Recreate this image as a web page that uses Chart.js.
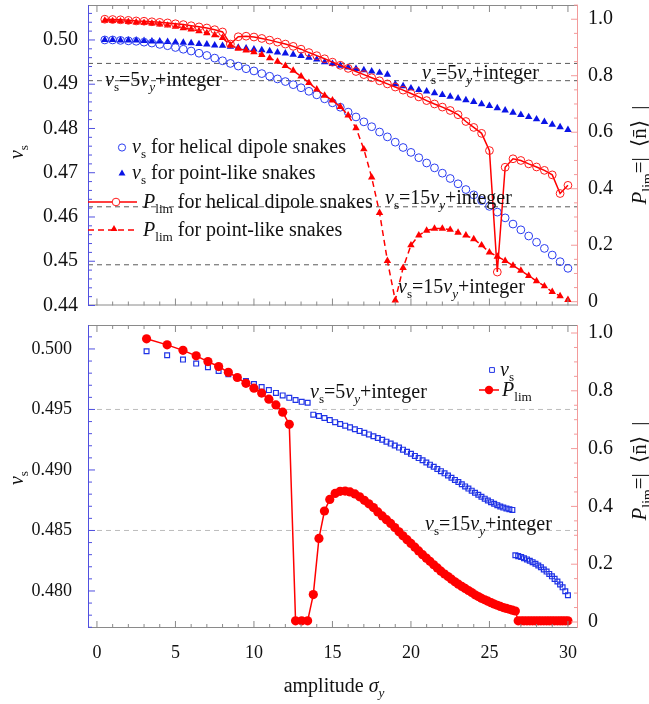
<!DOCTYPE html>
<html>
<head>
<meta charset="utf-8">
<script src="https://cdn.jsdelivr.net/npm/chart.js@4.4.1/dist/chart.umd.min.js"></script>
<style>
body{margin:0;background:#fff;}
#top,#bottom{position:absolute;left:0;width:649px;}
#top{top:0;height:316px;}
#bottom{top:316px;height:388px;}
</style>
</head>
<body>
<div id="top"><canvas id="c1"></canvas></div>
<div id="bottom"><canvas id="c2"></canvas></div>
<script>
// top panel: amplitude steps
const xTop = [0.5,1,1.5,2,2.5,3,3.5,4,4.5,5,5.5,6,6.5,7,7.5,8,8.5,9,9.5,10,
  10.5,11,11.5,12,12.5,13,13.5,14,14.5,15,15.5,16,16.5,17,17.5,18,18.5,19,19.5,20,
  20.5,21,21.5,22,22.5,23,23.5,24,24.5,25,25.5,26,26.5,27,27.5,28,28.5,29,29.5,30];
const nuHelical = [0.5000,0.5000,0.4999,0.4998,0.4997,0.4995,0.4993,0.4990,0.4987,0.4983,
  0.4979,0.4975,0.4970,0.4965,0.4959,0.4953,0.4947,0.4941,0.4935,0.4930,
  0.4924,0.4918,0.4912,0.4906,0.4899,0.4892,0.4884,0.4876,0.4867,0.4858,
  0.4848,0.4837,0.4826,0.4815,0.4804,0.4792,0.4781,0.4769,0.4757,0.4746,
  0.4734,0.4722,0.4711,0.4699,0.4687,0.4675,0.4662,0.4650,0.4637,0.4624,
  0.4611,0.4598,0.4584,0.4571,0.4557,0.4543,0.4529,0.4514,0.4499,0.4484];
const nuPoint = [0.5000,0.5000,0.4999,0.4999,0.4999,0.4998,0.4997,0.4997,0.4996,0.4995,
  0.4994,0.4993,0.4991,0.4990,0.4988,0.4987,0.4985,0.4983,0.4981,0.4979,
  0.4977,0.4975,0.4972,0.4970,0.4967,0.4964,0.4960,0.4956,0.4950,0.4946,
  0.4942,0.4938,0.4935,0.4932,0.4929,0.4926,0.4922,0.4900,0.4896,0.4891,
  0.4887,0.4884,0.4880,0.4876,0.4872,0.4868,0.4864,0.4860,0.4855,0.4851,
  0.4846,0.4841,0.4836,0.4831,0.4826,0.4821,0.4815,0.4809,0.4803,0.4797];
const pHelical = [1.000,0.999,0.998,0.996,0.994,0.993,0.991,0.989,0.987,0.984,
  0.981,0.977,0.973,0.969,0.963,0.955,0.912,0.938,0.940,0.937,
  0.932,0.926,0.919,0.912,0.904,0.894,0.882,0.871,0.860,0.848,
  0.837,0.826,0.815,0.804,0.793,0.782,0.771,0.760,0.749,0.737,
  0.725,0.712,0.700,0.689,0.677,0.662,0.638,0.617,0.596,0.535,
  0.105,0.476,0.506,0.500,0.488,0.477,0.465,0.449,0.383,0.412];
const pPoint = [0.995,0.994,0.993,0.991,0.989,0.987,0.985,0.982,0.978,0.974,
  0.969,0.964,0.958,0.951,0.944,0.934,0.908,0.896,0.890,0.884,
  0.874,0.862,0.850,0.835,0.818,0.798,0.775,0.752,0.730,0.713,
  0.690,0.660,0.615,0.540,0.440,0.315,0.145,0.005,0.120,0.200,
  0.235,0.252,0.259,0.259,0.255,0.245,0.235,0.222,0.200,0.175,
  0.160,0.145,0.128,0.110,0.092,0.073,0.055,0.035,0.020,0.007];
const topResonances = [0.4947, 0.4908, 0.4623, 0.4492];

// bottom panel
const xBottom = [3.16,4.47,5.48,6.32,7.07,7.75,8.37,8.94,9.49,10.00,
  10.49,10.95,11.40,11.83,12.25,12.65,13.04,13.42,13.78,14.14,
  14.49,14.83,15.17,15.49,15.81,16.12,16.43,16.73,17.03,17.32,
  17.61,17.89,18.17,18.44,18.71,18.97,19.24,19.49,19.75,20.00,
  20.25,20.49,20.74,20.98,21.21,21.45,21.68,21.91,22.14,22.36,
  22.58,22.80,23.02,23.24,23.45,23.66,23.87,24.08,24.29,24.49,
  24.70,24.90,25.10,25.30,25.50,25.69,25.88,26.08,26.27,26.46,
  26.65,26.83,27.02,27.20,27.39,27.57,27.75,27.93,28.11,28.28,
  28.46,28.64,28.81,28.98,29.15,29.33,29.50,29.66,29.83,30.00];
const nuBottom = [0.49981,0.49948,0.49912,0.49879,0.49849,0.49818,0.49791,0.49763,0.49736,0.49710,
  0.49686,0.49660,0.49637,0.49616,0.49596,0.49578,0.49563,0.49555,0.49457,0.49446,
  0.49430,0.49412,0.49395,0.49380,0.49366,0.49352,0.49337,0.49323,0.49308,0.49294,
  0.49279,0.49264,0.49250,0.49234,0.49218,0.49202,0.49185,0.49168,0.49151,0.49134,
  0.49116,0.49098,0.49080,0.49062,0.49044,0.49026,0.49008,0.48990,0.48972,0.48954,
  0.48936,0.48918,0.48900,0.48882,0.48864,0.48846,0.48829,0.48812,0.48795,0.48779,
  0.48763,0.48748,0.48734,0.48721,0.48709,0.48698,0.48689,0.48681,0.48675,0.48670,
  0.48295,0.48288,0.48280,0.48271,0.48261,0.48250,0.48238,0.48225,0.48211,0.48196,
  0.48178,0.48160,0.48141,0.48121,0.48100,0.48078,0.48054,0.48030,0.47998,0.47965];
const pBottom = [0.980,0.959,0.940,0.921,0.901,0.884,0.864,0.846,0.826,0.809,
  0.792,0.771,0.751,0.726,0.684,0.004,0.004,0.004,0.095,0.289,
  0.384,0.424,0.445,0.452,0.453,0.450,0.443,0.433,0.421,0.409,
  0.396,0.381,0.367,0.354,0.341,0.327,0.312,0.298,0.285,0.272,
  0.259,0.246,0.233,0.221,0.210,0.198,0.187,0.176,0.166,0.157,
  0.148,0.139,0.131,0.123,0.116,0.109,0.102,0.094,0.088,0.082,
  0.077,0.072,0.067,0.062,0.058,0.054,0.050,0.047,0.044,0.041,
  0.038,0.004,0.004,0.004,0.004,0.004,0.004,0.004,0.004,0.004,
  0.004,0.004,0.004,0.004,0.004,0.004,0.004,0.004,0.004,0.004];
const bottomResonances = [0.495, 0.485];

const xTicks = [0, 5, 10, 15, 20, 25, 30];

const FONT = '"Liberation Serif", "Times New Roman", serif';
const XMIN = -0.57, XMAX = 30.64;
function fnt(sz, it) { return (it ? 'italic ' : '') + sz + 'px ' + FONT; }

// text with subscripts
function rich(ctx, parts, x, y, size, align) {
  const sub = size * 0.66;
  let w = 0;
  parts.forEach(p => { ctx.font = fnt(p.sub ? sub : size, p.it); w += ctx.measureText(p.t).width; });
  let cx = align === 'center' ? x - w / 2 : (align === 'right' ? x - w : x);
  ctx.textAlign = 'left';
  ctx.textBaseline = 'alphabetic';
  parts.forEach(p => {
    ctx.font = fnt(p.sub ? sub : size, p.it);
    ctx.fillText(p.t, cx, y + (p.sub ? size * 0.27 : 0));
    cx += ctx.measureText(p.t).width;
  });
}
function richV(ctx, parts, cx, cy, size) {
  ctx.save();
  ctx.translate(cx, cy);
  ctx.rotate(-Math.PI / 2);
  rich(ctx, parts, 0, size * 0.33, size, 'center');
  ctx.restore();
}

const nuS = [{t: 'ν', it: true}, {t: 's', sub: true}];
const res5 = nuS.concat([{t: '=5'}, {t: 'ν', it: true}, {t: 'y', sub: true, it: true}, {t: '+integer'}]);
const res15 = nuS.concat([{t: '=15'}, {t: 'ν', it: true}, {t: 'y', sub: true, it: true}, {t: '+integer'}]);
const pLim = [{t: 'P', it: true}, {t: 'lim', sub: true}];
const rightTitle = pLim.concat([{t: '=|\u2002'}, {t: '\u27E8n\u0304\u27E9'}, {t: '\u2002|'}]);

function pts(xs, ys) { return xs.map((x, i) => ({x: x, y: ys[i]})); }
function resLine(v, color) {
  return {data: [{x: XMIN, y: v}, {x: XMAX, y: v}], yAxisID: 'y', showLine: true, borderColor: color,
    borderWidth: 1, borderDash: [5, 4], pointRadius: 0, order: 10};
}

// frame with inward ticks
function drawLine(ctx, x1, y1, x2, y2) { ctx.beginPath(); ctx.moveTo(x1, y1); ctx.lineTo(x2, y2); ctx.stroke(); }
function axisTicks(ctx, scale, minor, major, fn) {
  let v = Math.ceil(scale.min / minor - 1e-6) * minor;
  for (; v <= scale.max + 1e-9; v += minor) {
    const isMajor = Math.abs(v / major - Math.round(v / major)) < 1e-4;
    fn(scale.getPixelForValue(v), isMajor ? 7 : 4);
  }
}
const framePlugin = {
  id: 'frame',
  afterDatasetsDraw(chart) {
    const ctx = chart.ctx, a = chart.chartArea, s = chart.scales, o = chart.options.plugins.frame;
    ctx.save();
    ctx.lineWidth = 1;
    ctx.strokeStyle = '#8a8a8a';
    drawLine(ctx, a.left, a.top + 0.5, a.right, a.top + 0.5);
    drawLine(ctx, a.left, a.bottom - 0.5, a.right, a.bottom - 0.5);
    axisTicks(ctx, s.x, 1, 5, (p, L) => {
      drawLine(ctx, p, a.bottom, p, a.bottom - L);
      drawLine(ctx, p, a.top, p, a.top + L);
    });
    ctx.strokeStyle = '#5050e0';
    drawLine(ctx, a.left + 0.5, a.top, a.left + 0.5, a.bottom);
    axisTicks(ctx, s.y, o.lMinor, o.lMajor, (p, L) => drawLine(ctx, a.left, p, a.left + L, p));
    ctx.strokeStyle = '#f39a9a';
    drawLine(ctx, a.right - 0.5, a.top, a.right - 0.5, a.bottom);
    axisTicks(ctx, s.y1, 0.05, 0.2, (p, L) => drawLine(ctx, a.right, p, a.right - L, p));
    ctx.restore();
  }
};

function yTicks(step, dec, size, pad) {
  return {stepSize: step, includeBounds: false, autoSkip: false, padding: pad || 10, color: '#111',
    font: {family: FONT, size: size}, callback: v => Math.abs(v) < 1e-9 ? '0' : v.toFixed(dec)};
}
function fitY(w) {
  return s => { s.width = w; s.paddingTop = 0; s.paddingBottom = 0; };
}
const noGrid = {display: false, drawTicks: false};

// marker for legend
function marker(ctx, style, x, y, r, fill, stroke) {
  ctx.save();
  ctx.lineWidth = 1;
  ctx.fillStyle = fill || 'rgba(0,0,0,0)';
  ctx.strokeStyle = stroke || 'rgba(0,0,0,0)';
  Chart.helpers.drawPoint(ctx, {pointStyle: style, radius: r, borderWidth: stroke ? 1 : 0}, x, y);
  ctx.restore();
}

const TS = 20; // annotation text size

const topText = {
  id: 'topText',
  afterDraw(chart) {
    const ctx = chart.ctx;
    ctx.save();
    ctx.fillStyle = '#111';
    rich(ctx, res5, 105, 86, TS, 'left');
    rich(ctx, res5, 422, 79, TS, 'left');
    rich(ctx, res15, 385, 204, TS, 'left');
    rich(ctx, res15, 398, 293, TS, 'left');
    // legend
    marker(ctx, 'circle', 122, 147.5, 3.6, null, '#2a3cf0');
    ctx.fillStyle = '#111';
    rich(ctx, nuS.concat([{t: ' for helical dipole snakes'}]), 132, 153, TS, 'left');
    marker(ctx, 'triangle', 122, 173.5, 4, '#0a14e6', null);
    ctx.fillStyle = '#111';
    rich(ctx, nuS.concat([{t: ' for point-like snakes'}]), 132, 179, TS, 'left');
    ctx.strokeStyle = '#ff0000'; ctx.lineWidth = 1.5;
    drawLine(ctx, 88, 202, 137, 202);
    marker(ctx, 'circle', 116, 202, 3.8, '#fff', '#ff1a1a');
    ctx.setLineDash([6, 4]);
    ctx.strokeStyle = '#ff0000'; ctx.lineWidth = 1.5;
    drawLine(ctx, 88, 230, 137, 230);
    ctx.setLineDash([]);
    marker(ctx, 'triangle', 114, 229, 4, '#ff0000', null);
    ctx.fillStyle = '#111';
    rich(ctx, pLim.concat([{t: ' for helical dipole snakes'}]), 143, 208, TS, 'left');
    rich(ctx, pLim.concat([{t: ' for point-like snakes'}]), 143, 236, TS, 'left');
    // axis titles
    richV(ctx, nuS, 16, 152, 20);
    richV(ctx, rightTitle, 639, 155, 21);
    ctx.restore();
  }
};

const bottomText = {
  id: 'bottomText',
  afterDraw(chart) {
    const ctx = chart.ctx;
    ctx.save();
    ctx.fillStyle = '#111';
    rich(ctx, res5, 310, 82, TS, 'left');
    rich(ctx, res15, 425, 214, TS, 'left');
    // legend
    marker(ctx, 'rect', 492, 54, 3.4, null, '#1f33e6');
    ctx.fillStyle = '#111';
    rich(ctx, nuS, 500, 60, TS, 'left');
    ctx.strokeStyle = '#ff0000'; ctx.lineWidth = 1.5;
    drawLine(ctx, 479, 74, 499, 74);
    marker(ctx, 'circle', 489, 74, 4.2, '#ff0000', null);
    ctx.fillStyle = '#111';
    rich(ctx, pLim, 502, 80, TS, 'left');
    // axis titles
    richV(ctx, nuS, 16, 162, 20);
    richV(ctx, rightTitle, 639, 155, 21);
    rich(ctx, [{t: 'amplitude '}, {t: 'σ', it: true}, {t: 'y', sub: true, it: true}], 334, 376, 20, 'center');
    ctx.restore();
  }
};

new Chart(document.getElementById('c1'), {
  type: 'scatter',
  data: {
    datasets: [
      {data: pts(xTop, pHelical), yAxisID: 'y1', showLine: true, borderColor: '#ff0000', borderWidth: 1.5,
        pointStyle: 'circle', pointRadius: 3.9, pointBorderWidth: 1, pointBorderColor: '#ff1a1a',
        pointBackgroundColor: 'rgba(0,0,0,0)', order: 1},
      {data: pts(xTop, pPoint), yAxisID: 'y1', showLine: true, borderColor: '#ff0000', borderWidth: 1.5,
        borderDash: [6, 4], pointStyle: 'triangle', pointRadius: 4.3, pointBorderWidth: 0,
        pointBackgroundColor: '#ff0000', order: 2},
      {data: pts(xTop, nuHelical), yAxisID: 'y', pointStyle: 'circle', pointRadius: 3.9, pointBorderWidth: 1,
        pointBorderColor: '#2a3cf0', pointBackgroundColor: 'rgba(0,0,0,0)', order: 3},
      {data: pts(xTop, nuPoint), yAxisID: 'y', pointStyle: 'triangle', pointRadius: 4.3, pointBorderWidth: 0,
        pointBackgroundColor: '#0a14e6', order: 4}
    ].concat(topResonances.map(v => resLine(v, '#5a5a5a')))
  },
  options: {
    responsive: true, maintainAspectRatio: false, animation: false, events: [],
    layout: {padding: {top: 4, bottom: 10.5, left: 0, right: 0}},
    scales: {
      x: {type: 'linear', min: XMIN, max: XMAX, display: false},
      y: {position: 'left', min: 0.44, max: 0.5079, afterFit: fitY(88),
        grid: noGrid, border: {display: false}, ticks: yTicks(0.01, 2, 20)},
      y1: {position: 'right', min: -0.0134, max: 1.0504, afterFit: fitY(71),
        grid: noGrid, border: {display: false}, ticks: yTicks(0.2, 1, 20)}
    },
    plugins: {
      legend: {display: false}, tooltip: {enabled: false},
      frame: {lMinor: 0.002, lMajor: 0.01}
    }
  },
  plugins: [framePlugin, topText]
});

new Chart(document.getElementById('c2'), {
  type: 'scatter',
  data: {
    datasets: [
      {data: pts(xBottom, pBottom), yAxisID: 'y1', showLine: true, borderColor: '#ff0000', borderWidth: 1.5,
        pointStyle: 'circle', pointRadius: 4.6, pointBorderWidth: 0, pointBackgroundColor: '#ff0000', order: 1},
      {data: pts(xBottom, nuBottom), yAxisID: 'y', pointStyle: 'rect', pointRadius: 3.4, pointBorderWidth: 1.2,
        pointBorderColor: '#1f33e6', pointBackgroundColor: 'rgba(0,0,0,0)', order: 2}
    ].concat(bottomResonances.map(v => resLine(v, '#bdbdbd')))
  },
  options: {
    responsive: true, maintainAspectRatio: false, animation: false, events: [],
    layout: {padding: {top: 9, bottom: 0, left: 0, right: 0}},
    scales: {
      x: {type: 'linear', min: XMIN, max: XMAX,
        afterFit: s => { s.height = 76; s.paddingLeft = 0; s.paddingRight = 0; },
        afterBuildTicks: s => { s.ticks = xTicks.map(v => ({value: v})); },
        grid: noGrid, border: {display: false},
        ticks: {autoSkip: false, maxRotation: 0, padding: 14, color: '#111', font: {family: FONT, size: 18},
          callback: v => String(v)}},
      y: {position: 'left', min: 0.47694, max: 0.50198, afterFit: fitY(88),
        grid: noGrid, border: {display: false}, ticks: yTicks(0.005, 3, 18, 16)},
      y1: {position: 'right', min: -0.0208, max: 1.0277, afterFit: fitY(71),
        grid: noGrid, border: {display: false}, ticks: yTicks(0.2, 1, 20)}
    },
    plugins: {
      legend: {display: false}, tooltip: {enabled: false},
      frame: {lMinor: 0.001, lMajor: 0.005}
    }
  },
  plugins: [framePlugin, bottomText]
});
</script>
</body>
</html>
